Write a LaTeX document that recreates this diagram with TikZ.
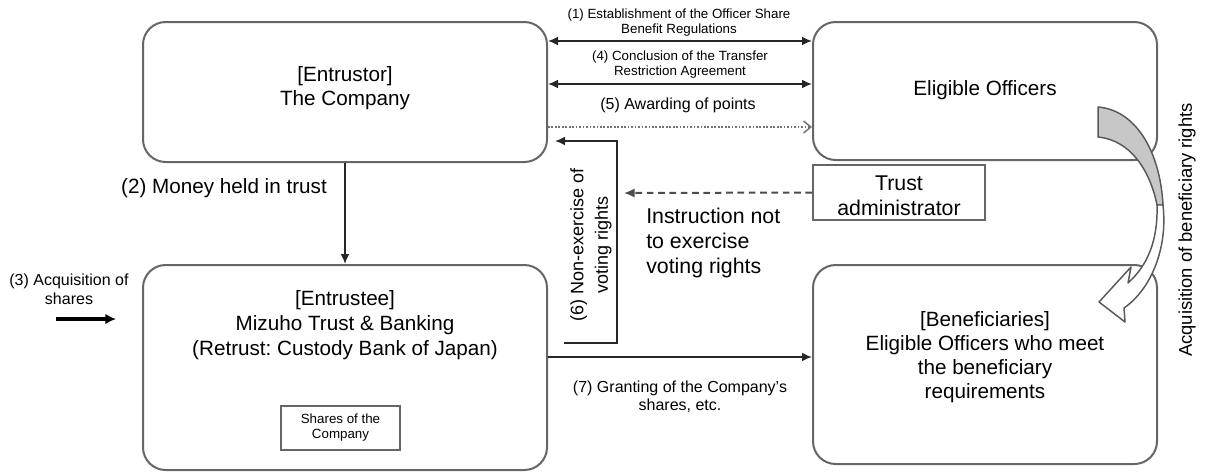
\documentclass[tikz,border=0pt]{standalone}
\usepackage{fontspec}
\setmainfont{Liberation Sans}
\usetikzlibrary{arrows.meta,calc}
\frenchspacing
\begin{document}
\begin{tikzpicture}[x=0.75pt,y=-0.75pt,
  box/.style={draw=black!60, line width=1.5pt, rounded corners=17pt, inner sep=0pt, fill=white},
  plainbox/.style={draw=black!60, line width=1.3pt, inner sep=0pt, fill=white},
  big/.style={font=\fontsize{15.5}{17.5}\selectfont, align=center, inner sep=0pt},
  mid/.style={font=\fontsize{12}{13.5}\selectfont, align=center, inner sep=0pt},
  tiny/.style={font=\fontsize{10}{11.25}\selectfont, align=center, inner sep=0pt},
  flow/.style={draw=black!85, line width=1.1pt, -{Latex[length=7.5pt,width=6.5pt]}},
  both/.style={draw=black!85, line width=1.1pt, {Latex[length=7.5pt,width=6.5pt]}-{Latex[length=7.5pt,width=6.5pt]}},
  dotflow/.style={draw=black!55, line width=1.8pt, dash pattern=on 1.3pt off 1.3pt, -{Straight Barb[length=5.5pt,width=9pt,line width=1.1pt]}},
  dashflow/.style={draw=black!70, line width=1.5pt, dash pattern=on 5pt off 3.5pt, -{Latex[length=8pt,width=7pt]}},
]
\useasboundingbox (0,0) rectangle (1205,472);

% main boxes
\node[box, minimum width=303pt, minimum height=105pt] (entrustor) at (345,92) {};
\node[big] (entrustorT) at (345,88) {[Entrustor]\\The Company};

\node[box, minimum width=258pt, minimum height=103.5pt] (officers) at (985,91) {};
\node[big] (officersT) at (985,90) {Eligible Officers};

\node[box, minimum width=303pt, minimum height=153.75pt] (entrustee) at (345,367.5) {};
\node[big, font=\fontsize{15.5}{18.5}\selectfont] (entrusteeT) at (345,325) {[Entrustee]\\Mizuho Trust \& Banking\\(Retrust: Custody Bank of Japan)};

\node[box, minimum width=258pt, minimum height=149.25pt] (benef) at (985,364.5) {};
\node[big, font=\fontsize{15.5}{18}\selectfont] (benefT) at (985,357) {[Beneficiaries]\\Eligible Officers who meet\\the beneficiary\\requirements};

\node[plainbox, minimum width=129pt, minimum height=41.25pt] (admin) at (899,192.5) {};
\node[big, font=\fontsize{16}{18.5}\selectfont] (adminT) at (899,196) {Trust\\administrator};

\node[plainbox, line width=1.1pt, minimum width=89.25pt, minimum height=33pt] (shares) at (340.5,428) {};
\node[tiny] (sharesT) at (340.5,428) {Shares of the\\Company};

% arrows between the company and the officers
\coordinate (r1) at (0,41);
\coordinate (r4) at (0,84);
\coordinate (r5) at (0,127);
\draw[both] (entrustor.east |- r1) -- (officers.west |- r1);
\draw[both] (entrustor.east |- r4) -- (officers.west |- r4);
\draw[dotflow] (entrustor.east |- r5) -- (officers.west |- r5);
\node[tiny] (l1) at (679,22.5) {(1) Establishment of the Officer Share\\Benefit Regulations};
\node[tiny] (l4) at (680,64.5) {(4) Conclusion of the Transfer\\Restriction Agreement};
\node[mid] (l5) at (678,105) {(5) Awarding of points};

% money held in trust
\draw[flow] (entrustor.south) -- (entrustee.north);
\node[big] (l2) at (224,188) {(2) Money held in trust};

% acquisition of shares
\coordinate (acqS) at (56,319);
\coordinate (acqE) at (116,319);
\draw[draw=black, line width=2.4pt, -{Latex[length=8pt,width=8pt]}] (acqS) -- (acqE);
\node[mid, font=\fontsize{12}{14}\selectfont] (l3) at (69,289) {(3) Acquisition of\\shares};

% non-exercise of voting rights
\coordinate (v6s) at (564,343);
\coordinate (v6e) at (555,141);
\draw[flow] (v6s) -- (617,343) |- (v6e);
\node[font=\fontsize{13.5}{18.5}\selectfont, align=center, rotate=90, inner sep=0pt] (l6) at (591,245) {(6) Non-exercise of\\voting rights};

% instruction from the trust administrator
\coordinate (instr) at (624,193);
\draw[dashflow] (admin.west) -- (instr);
\node[font=\fontsize{16}{18.75}\selectfont, align=left, anchor=west, inner sep=0pt] (lInstr) at (646,243) {Instruction not\\to exercise\\voting rights};

% granting of shares
\coordinate (r7) at (0,357);
\draw[flow] (entrustee.east |- r7) -- (benef.west |- r7);
\node[mid] (l7) at (680,397) {(7) Granting of the Company’s\\shares, etc.};

% curved arrow: acquisition of beneficiary rights
\fill[black!22] (1098,107) .. controls (1135,110) and (1160,150) .. (1163,205)
   -- (1157,205) .. controls (1150,170) and (1130,140) .. (1098,137) -- cycle;
\draw[black!65, line width=1.1pt, line join=round] (1098,107) .. controls (1135,110) and (1160,150) .. (1163,205)
   -- (1157,205) .. controls (1150,170) and (1130,140) .. (1098,137) -- cycle;
\draw[black!65, line width=1.1pt, fill=white, line join=round]
   (1157,205) .. controls (1158,240) and (1148,265) .. (1128,283)
   -- (1131,267) -- (1099,302) -- (1125,322) -- (1124,308)
   .. controls (1150,290) and (1168,250) .. (1163,205) -- cycle;
\node[font=\fontsize{13.8}{16}\selectfont, rotate=90, inner sep=0pt] (lAcq) at (1187,230) {Acquisition of beneficiary rights};
\end{tikzpicture}
\end{document}
